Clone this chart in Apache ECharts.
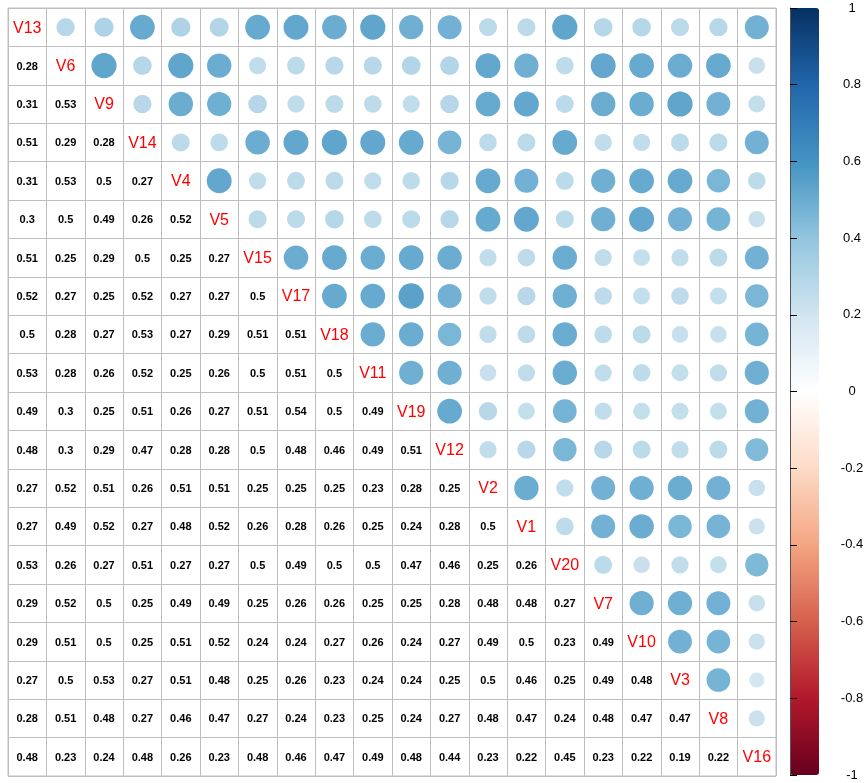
<!DOCTYPE html>
<html>
<head>
<meta charset="utf-8">
<script src="https://cdn.jsdelivr.net/npm/echarts@6/dist/echarts.min.js"></script>
<style>html,body{margin:0;padding:0;background:#fff}#chart{width:867px;height:783px}</style>
</head>
<body>
<div id="chart"></div>
<script>
const variables = ["V13","V6","V9","V14","V4","V5","V15","V17","V18","V11","V19","V12","V2","V1","V20","V7","V10","V3","V8","V16"];
// lower-triangle correlations, row by row (row k has k values)
const rowV6  = [0.28];
const rowV9  = [0.31, 0.53];
const rowV14 = [0.51, 0.29, 0.28];
const rowV4  = [0.31, 0.53, 0.5, 0.27];
const rowV5  = [0.3, 0.5, 0.49, 0.26, 0.52];
const rowV15 = [0.51, 0.25, 0.29, 0.5, 0.25, 0.27];
const rowV17 = [0.52, 0.27, 0.25, 0.52, 0.27, 0.27, 0.5];
const rowV18 = [0.5, 0.28, 0.27, 0.53, 0.27, 0.29, 0.51, 0.51];
const rowV11 = [0.53, 0.28, 0.26, 0.52, 0.25, 0.26, 0.5, 0.51, 0.5];
const rowV19 = [0.49, 0.3, 0.25, 0.51, 0.26, 0.27, 0.51, 0.54, 0.5, 0.49];
const rowV12 = [0.48, 0.3, 0.29, 0.47, 0.28, 0.28, 0.5, 0.48, 0.46, 0.49, 0.51];
const rowV2  = [0.27, 0.52, 0.51, 0.26, 0.51, 0.51, 0.25, 0.25, 0.25, 0.23, 0.28, 0.25];
const rowV1  = [0.27, 0.49, 0.52, 0.27, 0.48, 0.52, 0.26, 0.28, 0.26, 0.25, 0.24, 0.28, 0.5];
const rowV20 = [0.53, 0.26, 0.27, 0.51, 0.27, 0.27, 0.5, 0.49, 0.5, 0.5, 0.47, 0.46, 0.25, 0.26];
const rowV7  = [0.29, 0.52, 0.5, 0.25, 0.49, 0.49, 0.25, 0.26, 0.26, 0.25, 0.25, 0.28, 0.48, 0.48, 0.27];
const rowV10 = [0.29, 0.51, 0.5, 0.25, 0.51, 0.52, 0.24, 0.24, 0.27, 0.26, 0.24, 0.27, 0.49, 0.5, 0.23, 0.49];
const rowV3  = [0.27, 0.5, 0.53, 0.27, 0.51, 0.48, 0.25, 0.26, 0.23, 0.24, 0.24, 0.25, 0.5, 0.46, 0.25, 0.49, 0.48];
const rowV8  = [0.28, 0.51, 0.48, 0.27, 0.46, 0.47, 0.27, 0.24, 0.23, 0.25, 0.24, 0.27, 0.48, 0.47, 0.24, 0.48, 0.47, 0.47];
const rowV16 = [0.48, 0.23, 0.24, 0.48, 0.26, 0.23, 0.48, 0.46, 0.47, 0.49, 0.48, 0.44, 0.23, 0.22, 0.45, 0.23, 0.22, 0.19, 0.22];
const colorbarTicks = [-1, -0.8, -0.6, -0.4, -0.2, 0, 0.2, 0.4, 0.6, 0.8, 1];
const palette = ["#67001F","#B2182B","#D6604D","#F4A582","#FDDBC7","#FFFFFF","#D1E5F0","#92C5DE","#4393C3","#2166AC","#053061"];

const lowerRows = [[], rowV6, rowV9, rowV14, rowV4, rowV5, rowV15, rowV17, rowV18, rowV11, rowV19, rowV12, rowV2, rowV1, rowV20, rowV7, rowV10, rowV3, rowV8, rowV16];
function corr(i, j) {
  if (i === j) return 1;
  return i > j ? lowerRows[i][j] : lowerRows[j][i];
}
const circleData = [];
const textData = [];
for (let i = 0; i < variables.length; i++) {
  for (let j = 0; j < variables.length; j++) {
    if (j > i) circleData.push([j, i, corr(i, j)]);
    else if (j < i) textData.push([j, i, corr(i, j), 0]);
    else textData.push([j, i, 1, 1]);
  }
}

const chart = echarts.init(document.getElementById('chart'), null, {renderer: 'canvas'});
const FONT = '"Liberation Sans", Arial, Helvetica, sans-serif';
chart.setOption({
  backgroundColor: '#ffffff',
  animation: false,
  grid: [
    {left: 8, top: 8, width: 768, height: 768, show: true, borderColor: '#BEBEBE', borderWidth: 1, backgroundColor: '#fff'},
    {left: 790, top: 8, width: 29, height: 767, show: false}
  ],
  xAxis: [
    {type: 'category', data: variables, gridIndex: 0, axisLabel: {show: false}, axisTick: {show: false}, axisLine: {show: false},
     splitLine: {show: true, lineStyle: {color: '#BEBEBE', width: 1}}},
    {type: 'value', gridIndex: 1, show: false, min: 0, max: 1}
  ],
  yAxis: [
    {type: 'category', data: variables, inverse: true, gridIndex: 0, axisLabel: {show: false}, axisTick: {show: false}, axisLine: {show: false},
     splitLine: {show: true, lineStyle: {color: '#BEBEBE', width: 1}}},
    {type: 'value', gridIndex: 1, position: 'right', z: 10, min: colorbarTicks[0], max: colorbarTicks[colorbarTicks.length - 1], interval: 0.2,
     axisLine: {show: true, lineStyle: {color: '#555', width: 1}},
     axisTick: {show: true, inside: false, length: 7, lineStyle: {color: '#000', width: 1}},
     splitLine: {show: false},
     axisLabel: {show: true, margin: 33, align: 'center', color: '#000', fontSize: 13, fontFamily: FONT, padding: [10, 0, 0, 0],
       formatter: v => String(Math.round(v * 10) / 10)}}
  ],
  visualMap: {
    type: 'continuous', min: -1, max: 1, dimension: 2, seriesIndex: 0, z: 2,
    left: 790, top: 8, itemWidth: 29, itemHeight: 767, padding: 0,
    calculable: false, hoverLink: false, text: ['', ''], showLabel: false,
    inRange: {color: palette}
  },
  series: [
    {
      type: 'custom', xAxisIndex: 0, yAxisIndex: 0, data: circleData, silent: true,
      renderItem: function (params, api) {
        const c = api.coord([api.value(0), api.value(1)]);
        const s = api.size([1, 1]);
        const r = 0.9 * Math.sqrt(Math.abs(api.value(2))) * Math.min(s[0], s[1]) / 2;
        return {type: 'circle', shape: {cx: c[0], cy: c[1], r: r}, style: {fill: api.visual('color'), stroke: null}};
      }
    },
    {
      type: 'custom', xAxisIndex: 0, yAxisIndex: 0, data: textData, silent: true,
      renderItem: function (params, api) {
        const c = api.coord([api.value(0), api.value(1)]);
        const isDiag = api.value(3) === 1;
        const idx = params.dataIndex;
        const d = textData[idx];
        return {
          type: 'text',
          style: isDiag ? {
            text: variables[d[1]], x: c[0], y: c[1] + 1, align: 'center', verticalAlign: 'middle',
            fill: '#FF0000', font: 'normal 16px ' + FONT
          } : {
            text: String(d[2]), x: c[0], y: c[1] + 1, align: 'center', verticalAlign: 'middle',
            fill: '#000000', font: 'bold 11px ' + FONT
          }
        };
      }
    }
  ]
});
</script>
</body>
</html>
